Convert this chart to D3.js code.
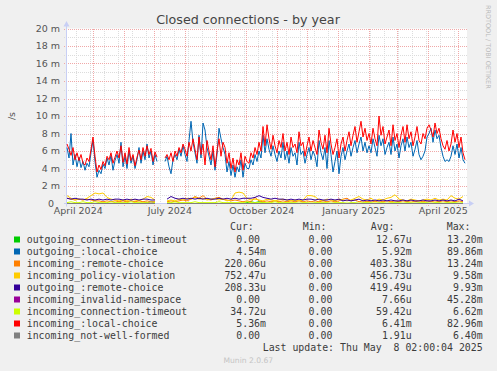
<!DOCTYPE html>
<html>
<head>
<meta charset="utf-8">
<script src="https://cdn.jsdelivr.net/npm/d3@7"></script>
<style>
  html, body { margin: 0; padding: 0; background: #f0f0f0; }
  svg { display: block; }
  text { white-space: pre; }
</style>
</head>
<body>
<div id="chart"></div>
<script>
// ---- data (values in milli-connections per second) ----
const title = "Closed connections - by year";
const seriesNames = [
  "outgoing_connection-timeout", "outgoing_:local-choice", "incoming_:remote-choice",
  "incoming_policy-violation", "outgoing_:remote-choice", "incoming_invalid-namespace",
  "incoming_connection-timeout", "incoming_:local-choice", "incoming_not-well-formed"
];
const seriesColors = ["#00cc00", "#0066b3", "#ff8000", "#ffcc00", "#330099", "#990099", "#ccff00", "#ff0000", "#808080"];

const curVals = ["0.00 ", "4.54m", "220.06u", "752.47u", "208.33u", "0.00 ", "34.72u", "5.36m", "0.00 "];
const minVals = ["0.00 ", "0.00 ", "0.00 ", "0.00 ", "0.00 ", "0.00 ", "0.00 ", "0.00 ", "0.00 "];
const avgVals = ["12.67u", "5.92m", "403.38u", "456.73u", "419.49u", "7.66u", "59.42u", "6.41m", "1.91u"];
const maxVals = ["13.20m", "89.86m", "13.24m", "9.58m", "9.93m", "45.28m", "6.62m", "82.96m", "6.40m"];

const yTicks = [0, 2, 4, 6, 8, 10, 12, 14, 16, 18, 20];
const xLabelMonths = ["2024-04", "2024-07", "2024-10", "2025-01", "2025-04"];
const lastUpdate = "Last update: Thu May  8 02:00:04 2025";

// one value every 2 days
const outLocalChoice = [
  6.4, 5.2, 8.0, 4.4, 5.6, 4.2, 5.3, 4.1, 4.8, 3.8, 4.6, 4.2, 5.8, 7.2, 4.8, 3.0, 3.8, 3.4, 4.5, 4.0,
  5.2, 4.4, 5.5, 3.8, 4.9, 5.6, 4.6, 7.0, 4.2, 5.4, 4.0, 6.0, 4.6, 5.4, 4.0, 5.0, 6.4, 4.6, 6.0, 5.0,
  6.8, 5.2, 6.0, 4.4, 5.6, 4.8, null, null, null,
  4.8, 5.4, 4.2, 3.4, 5.0, 5.6, 5.0, 6.2, 5.4, 6.6, 5.6, 4.8, 7.2, 9.4, 7.0, 5.8, 4.6, 7.8, 5.2, 9.2,
  8.4, 6.4, 5.4, 4.4, 6.0, 3.8, 5.6, 8.6, 7.4, 6.4, 5.6, 3.6, 4.8, 3.2, 4.4, 3.0, 4.2, 3.6, 5.0, 3.0,
  4.6, 4.0,
  4.0, 5.0, 4.4, 5.6, 4.8, 6.0, 5.2, 7.8, 5.8, 7.4, 6.2, 5.4, 6.6, 5.6, 4.8, 6.0, 5.2, 7.0, 5.0, 6.0,
  4.6, 6.4, 5.4, 5.8, 4.4, 7.0, 5.6, 6.0, 4.6, 5.6, 6.4, 5.0, 6.0, 5.4, 4.2, 7.2, 5.8, 5.0, 6.4, 4.0,
  7.2, 5.6, 3.6, 4.8, 6.0, 3.4, 5.4, 6.4, 5.0, 6.0, 6.8, 5.4, 6.4, 7.2, 5.8, 6.8, 7.6, 6.0, 7.0, 5.8,
  6.6, 5.8, 7.4, 6.4, 5.4, 7.8, 6.6, 7.4, 5.6, 6.4, 7.0, 5.6, 7.6, 6.0, 6.8, 5.2, 6.6, 7.4, 6.0, 7.6,
  6.4, 7.0, 5.4, 6.2, 7.2, 5.6, 5.0, 5.4, 6.0, 7.6, 8.0, 8.6, 7.0, 8.4, 7.4, 7.8, 6.4, 5.4, 4.8, 5.0,
  4.8, 5.4, 6.6, 5.6, 6.8, 5.2, 6.4, 5.0, 4.6
];
const inLocalChoice = [
  6.8, 6.2, 5.5, 6.4, 5.0, 5.8, 4.9, 5.6, 4.6, 4.4, 5.2, 4.8, 6.2, 7.6, 5.4, 3.6, 4.4, 3.9, 4.8, 4.3,
  5.4, 5.0, 5.8, 4.6, 5.3, 6.0, 5.2, 6.6, 4.7, 5.8, 4.5, 6.4, 4.9, 5.6, 4.3, 5.3, 6.1, 5.0, 6.4, 5.4,
  6.6, 5.6, 6.3, 4.8, 5.9, 5.3, null, null, null,
  5.2, 5.6, 5.0, 5.8, 4.8, 6.0, 5.4, 6.4, 5.8, 6.8, 6.2, 5.4, 7.0, 6.0, 7.4, 6.2, 5.0, 7.6, 5.6, 6.8,
  4.4, 7.2, 6.0, 5.0, 6.6, 4.2, 6.0, 7.4, 5.4, 7.0, 6.4, 4.6, 5.8, 4.0, 5.2, 3.6, 5.0, 4.4, 5.8, 3.8,
  5.4, 4.8,
  4.6, 5.8, 5.2, 6.4, 5.6, 7.0, 6.0, 8.8, 6.6, 9.0, 7.4, 6.2, 7.8, 6.6, 5.8, 7.2, 6.4, 8.0, 6.0, 7.0,
  5.6, 7.6, 6.4, 6.8, 5.8, 8.2, 6.6, 7.0, 5.4, 6.6, 7.6, 6.0, 7.2, 6.4, 5.6, 8.4, 7.0, 6.2, 7.8, 5.8,
  8.6, 6.8, 5.6, 6.4, 7.4, 5.2, 6.8, 7.6, 6.0, 7.2, 8.2, 6.6, 7.8, 8.8, 7.0, 8.2, 9.4, 7.6, 8.6, 7.2,
  8.0, 6.8, 8.6, 7.4, 6.6, 10.0, 7.8, 8.8, 6.8, 7.6, 8.4, 6.6, 9.0, 7.2, 8.0, 6.4, 7.8, 8.8, 7.0, 9.0,
  7.4, 8.2, 6.6, 7.6, 8.8, 7.2, 6.8, 8.0, 7.4, 8.6, 9.0, 8.4, 7.6, 9.2, 8.0, 8.6, 7.4, 6.6, 6.2, 7.2,
  6.0, 6.8, 8.4, 7.0, 8.0, 6.4, 7.6, 5.8, 5.0
];

// one value every 4 days
const inRemoteChoice = [
  0.6, 0.5, 0.4, 0.5, 0.4, 0.5, 0.4, 0.3, 0.3, 0.2, 0.3, 0.2, 0.3, 0.2, 0.3, 0.2, 0.3, 0.2, 0.3, 0.2,
  0.3, 0.2, 0.2, null, null,
  0.2, 0.3, 0.2, 0.3, 0.4, 0.3, 0.5, 0.8, 0.6, 0.9, 0.5, 0.4, 0.6, 0.7, 0.5, 0.4, 0.3, 0.4, 0.3, 0.2,
  0.3, 0.2, 0.7, 0.3, 0.2, 0.3, 0.2, 0.3, 0.2, 0.3, 0.2, 0.3, 0.2, 0.3, 0.2, 0.3, 0.2, 0.3, 0.2, 0.3,
  0.2, 0.3, 0.2, 0.3, 0.5, 0.6, 0.3, 0.4, 0.2, 0.3, 0.2, 0.3, 0.2, 0.3, 0.2, 0.3, 0.2, 0.3, 0.2, 0.3,
  0.2, 0.3, 0.2, 0.3, 0.2, 0.3, 0.2, 0.3, 0.2, 0.3, 0.2, 0.3, 0.2, 0.3, 0.2
];
const inPolicyViolation = [
  0.9, 0.6, 0.4, 0.5, 0.4, 0.6, 0.9, 1.2, 1.1, 1.2, 0.7, 0.5, 0.4, 0.3, 0.4, 0.3, 0.5, 0.4, 0.3, 0.5,
  0.8, 0.7, 0.4, null, null,
  0.3, 0.4, 0.3, 0.5, 0.4, 0.6, 0.5, 0.7, 0.5, 0.6, 0.4, 0.5, 0.6, 0.4, 0.5, 0.3, 0.4, 1.2, 1.3, 1.2,
  0.6, 0.4, 0.5, 0.4, 0.3, 0.5, 0.4, 0.3, 0.4, 0.5, 0.4, 0.3, 0.4, 0.3, 0.4, 0.9, 0.9, 0.8, 0.4, 0.3,
  0.5, 0.4, 0.3, 0.5, 0.4, 0.3, 0.4, 0.6, 0.8, 0.5, 0.4, 0.6, 0.3, 0.5, 0.4, 0.6, 0.7, 1.0, 0.5, 0.4,
  0.3, 0.5, 0.4, 0.3, 0.4, 0.5, 0.4, 0.6, 0.4, 0.5, 0.4, 0.9, 0.6, 0.5, 0.8
];
const outRemoteChoice = [
  0.6, 0.5, 0.6, 0.5, 0.5, 0.4, 0.5, 0.4, 0.5, 0.4, 0.5, 0.4, 0.5, 0.5, 0.4, 0.5, 0.4, 0.5, 0.4, 0.5,
  0.5, 0.4, 0.4, null, null,
  0.5, 0.8, 0.6, 0.5, 0.6, 0.5, 0.6, 0.5, 0.6, 0.5, 0.6, 0.5, 0.5, 0.6, 0.5, 0.6, 0.5, 0.6, 0.5, 0.6,
  0.6, 0.6, 0.7, 0.9, 0.7, 0.6, 0.5, 0.6, 0.5, 0.5, 0.4, 0.5, 0.4, 0.5, 0.4, 0.5, 0.5, 0.4, 0.5, 0.4,
  0.4, 0.5, 0.4, 0.5, 0.3, 0.4, 0.3, 0.4, 0.5, 0.3, 0.4, 0.3, 0.4, 0.3, 0.4, 0.3, 0.4, 0.3, 0.3, 0.4,
  0.3, 0.4, 0.3, 0.3, 0.4, 0.3, 0.3, 0.4, 0.3, 0.4, 0.3, 0.4, 0.3, 0.5, 0.3
];
const inConnTimeout = [
  0.1, 0.2, 0.1, 0.1, 0.2, 0.1, 0.1, 0.2, 0.1, 0.1, 0.1, 0.2, 0.1, 0.1, 0.1, 0.1, 0.2, 0.1, 0.1, 0.1,
  0.1, 0.2, 0.1, null, null,
  0.1, 0.1, 0.2, 0.1, 0.1, 0.1, 0.1, 0.2, 0.1, 0.1, 0.1, 0.1, 0.1, 0.2, 0.1, 0.1, 0.1, 0.1, 0.1, 0.1,
  0.2, 0.1, 0.1, 0.1, 0.1, 0.1, 0.1, 0.2, 0.1, 0.1, 0.1, 0.1, 0.1, 0.05, 0.1, 0.1, 0.05, 0.1, 0.1, 0.1,
  0.1, 0.05, 0.1, 0.1, 0.1, 0.05, 0.1, 0.1, 0.05, 0.1, 0.1, 0.1, 0.05, 0.1, 0.1, 0.05, 0.1, 0.1, 0.1, 0.05,
  0.1, 0.1, 0.05, 0.1, 0.1, 0.1, 0.05, 0.1, 0.1, 0.05, 0.1, 0.1, 0.1, 0.05, 0.1
];
const outConnTimeout = [
  0, 0, 0, 0, 0, 0, 0, 0, 0, 0, 0, 0, 0, 0, 0, 0, 0, 0, 0, 0,
  0, 0, 0, null, null,
  0, 0, 0, 0, 0, 0, 0, 0, 0, 0, 0, 0, 0, 0, 0, 0, 0, 0, 0, 0,
  0.1, 0.2, 0.1, 0.2, 0.1, 0, 0, 0, 0, 0, 0, 0, 0, 0, 0, 0, 0, 0, 0, 0,
  0, 0, 0, 0, 0, 0, 0, 0, 0, 0, 0, 0, 0, 0, 0, 0, 0, 0, 0, 0,
  0, 0, 0, 0, 0, 0, 0, 0, 0, 0, 0, 0, 0, 0, 0
];
const inInvalidNamespace = [
  0, 0, 0, 0, 0, 0, 0, 0, 0, 0, 0, 0, 0, 0, 0, 0, 0, 0, 0, 0,
  0.1, 0.2, 0.1, null, null,
  0, 0, 0, 0, 0, 0, 0, 0, 0, 0, 0, 0, 0, 0, 0, 0, 0, 0, 0, 0,
  0, 0, 0, 0, 0, 0, 0, 0, 0, 0, 0, 0, 0, 0, 0, 0, 0, 0, 0, 0,
  0, 0, 0, 0, 0, 0, 0, 0, 0, 0, 0, 0, 0, 0, 0, 0, 0, 0, 0, 0,
  0, 0, 0, 0, 0, 0, 0, 0, 0, 0, 0, 0, 0, 0, 0
];
const inNotWellFormed = [
  0, 0, 0, 0, 0, 0, 0, 0, 0, 0, 0, 0, 0, 0, 0, 0, 0, 0, 0, 0,
  0, 0, 0, null, null,
  0, 0, 0, 0, 0, 0, 0, 0, 0, 0, 0, 0, 0, 0, 0, 0, 0, 0, 0, 0,
  0, 0, 0, 0, 0, 0, 0, 0, 0, 0, 0, 0, 0, 0, 0, 0, 0, 0, 0, 0,
  0, 0, 0, 0, 0, 0, 0, 0, 0, 0, 0, 0, 0, 0, 0, 0, 0, 0, 0, 0,
  0, 0, 0, 0, 0, 0, 0, 0, 0, 0, 0, 0, 0, 0, 0
];

// drawing order = legend order
const seriesData = [
  {vals: outConnTimeout, step: 4}, {vals: outLocalChoice, step: 2}, {vals: inRemoteChoice, step: 4},
  {vals: inPolicyViolation, step: 4}, {vals: outRemoteChoice, step: 4}, {vals: inInvalidNamespace, step: 4},
  {vals: inConnTimeout, step: 4}, {vals: inLocalChoice, step: 2}, {vals: inNotWellFormed, step: 4}
];

// ---- layout ----
const W = 497, H = 371;
const plotL = 67, plotR = 467, plotT = 28.5, plotB = 203.5;
const DAY = 864e5;
const t0 = Date.UTC(2024, 3, 4, 17);
const t1 = t0 + 400 * DAY;

const svg = d3.select("#chart").append("svg").attr("width", W).attr("height", H);
svg.append("rect").attr("width", W).attr("height", H).attr("fill", "#f0f0f0");

let x = d3.scaleUtc().domain([t0, t1]).range([plotL, plotR]);
let y = d3.scaleLinear().domain([0, 20]).range([plotB, plotT]);

svg.append("rect")
  .attr("x", plotL).attr("y", plotT)
  .attr("width", plotR - plotL).attr("height", plotB - plotT)
  .attr("fill", "#ffffff");

let grid = svg.append("g").attr("shape-rendering", "crispEdges");
const minorCol = "#dcdcdc", majorCol = "#f0a8a8";

// horizontal minor / major
d3.range(1, 20, 2).forEach(v => {
  let yy = Math.round(y(v)) + 0.5;
  grid.append("line").attr("x1", plotL - 3).attr("x2", plotR).attr("y1", yy).attr("y2", yy)
    .attr("stroke", minorCol).attr("stroke-dasharray", "1,1");
});
// vertical minor every 2 weeks
d3.utcDay.range(new Date(Date.UTC(2024, 3, 14)), new Date(t1), 14).forEach(d => {
  let xx = Math.round(x(d)) + 0.5;
  grid.append("line").attr("x1", xx).attr("x2", xx).attr("y1", plotT).attr("y2", plotB + 2)
    .attr("stroke", minorCol).attr("stroke-dasharray", "1,1");
});
yTicks.filter(v => v > 0).forEach(v => {
  let yy = Math.round(y(v)) + 0.5;
  grid.append("line").attr("x1", plotL - 3).attr("x2", plotR).attr("y1", yy).attr("y2", yy)
    .attr("stroke", majorCol).attr("stroke-dasharray", "1,1");
});
d3.utcMonth.range(new Date(t0), new Date(t1)).forEach(d => {
  let xx = Math.round(x(d)) + 0.5;
  grid.append("line").attr("x1", xx).attr("x2", xx).attr("y1", plotT).attr("y2", plotB + 3)
    .attr("stroke", majorCol).attr("stroke-dasharray", "1,1");
});

// axes
const axisCol = "#c8cff5";
svg.append("line").attr("x1", plotL - 0.5).attr("x2", plotL - 0.5).attr("y1", plotB + 3).attr("y2", 25)
  .attr("stroke", axisCol);
svg.append("path").attr("d", `M${plotL - 3.5},26.5 L${plotL - 0.5},21 L${plotL + 2.5},26.5 Z`).attr("fill", axisCol);
svg.append("line").attr("x1", plotL - 3).attr("x2", plotR + 3).attr("y1", plotB).attr("y2", plotB)
  .attr("stroke", axisCol);
svg.append("path").attr("d", `M${plotR + 2},${plotB - 3} L${plotR + 7},${plotB} L${plotR + 2},${plotB + 3} Z`).attr("fill", axisCol);

// series
let line = d3.line()
  .defined(d => d.v != null)
  .x(d => x(d.t))
  .y(d => y(d.v));

seriesData.forEach((s, k) => {
  let pts = s.vals.map((v, i) => ({t: new Date(t0 + i * s.step * DAY), v: v}));
  svg.append("path")
    .attr("d", line(pts))
    .attr("fill", "none")
    .attr("stroke", seriesColors[k])
    .attr("stroke-width", 1);
});

// y labels
const axisFont = "DejaVu Sans, sans-serif";
yTicks.forEach(v => {
  svg.append("text")
    .attr("x", 60).attr("y", y(v) + 3.4)
    .attr("text-anchor", "end")
    .attr("font-family", axisFont).attr("font-size", 9.5).attr("fill", "#555")
    .text(v === 0 ? "0  " : v + " m");
});

// x labels, centred on the month
xLabelMonths.forEach(m => {
  let d = d3.utcParse("%Y-%m")(m);
  let mid = new Date((+d + +d3.utcMonth.offset(d, 1)) / 2);
  svg.append("text")
    .attr("x", x(mid)).attr("y", 214)
    .attr("text-anchor", "middle")
    .attr("font-family", axisFont).attr("font-size", 9.5).attr("fill", "#555")
    .text(d3.utcFormat("%B %Y")(d));
});

// title and side texts
svg.append("text").attr("x", 248).attr("y", 23.5).attr("text-anchor", "middle")
  .attr("font-family", axisFont).attr("font-size", 12.7).attr("fill", "#444").text(title);

svg.append("text").attr("transform", "translate(15,116) rotate(-90)").attr("text-anchor", "middle")
  .attr("font-family", axisFont).attr("font-size", 9.5).attr("fill", "#555").text("/s");

svg.append("text").attr("transform", "translate(485.5,5) rotate(90)").attr("text-anchor", "start")
  .attr("font-family", axisFont).attr("font-size", 6.5).attr("fill", "#bbb").text("RRDTOOL / TOBI OETIKER");

// legend
const monoFont = "DejaVu Sans Mono, monospace";
const lg = svg.append("g").attr("font-family", monoFont).attr("font-size", 9.9).attr("fill", "#3c3c3c");
[["Cur:", 230], ["Min:", 302.7], ["Avg:", 370.7], ["Max:", 446.7]].forEach(h => {
  lg.append("text").attr("x", h[1]).attr("y", 230).text(h[0]);
});
seriesNames.forEach((name, i) => {
  let by = 242.5 + i * 12;
  svg.append("rect").attr("x", 14).attr("y", by - 6).attr("width", 6).attr("height", 6)
    .attr("fill", seriesColors[i]);
  lg.append("text").attr("x", 26.7).attr("y", by).text(name);
  lg.append("text").attr("x", 266).attr("y", by).attr("text-anchor", "end").text(curVals[i]);
  lg.append("text").attr("x", 338.3).attr("y", by).attr("text-anchor", "end").text(minVals[i]);
  lg.append("text").attr("x", 411.7).attr("y", by).attr("text-anchor", "end").text(avgVals[i]);
  lg.append("text").attr("x", 482.7).attr("y", by).attr("text-anchor", "end").text(maxVals[i]);
});
lg.append("text").attr("x", 482.7).attr("y", 350.5).attr("text-anchor", "end").text(lastUpdate);

svg.append("text").attr("x", 223.5).attr("y", 362.5)
  .attr("font-family", axisFont).attr("font-size", 7.6).attr("fill", "#c4c4c4").text("Munin 2.0.67");
</script>
</body>
</html>
